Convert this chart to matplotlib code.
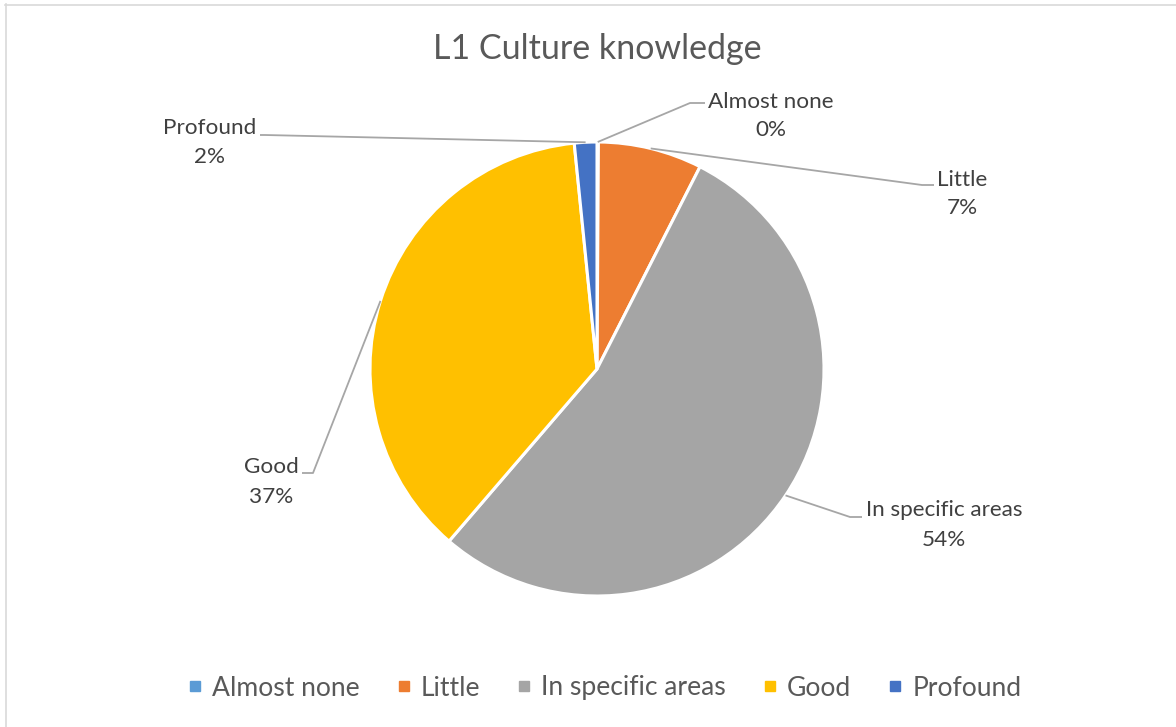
import matplotlib
matplotlib.use('Agg')
import matplotlib.pyplot as plt
from matplotlib.lines import Line2D
import numpy as np

# Respuestas: conocimiento de la cultura L1 (porcentaje)
categorias = ['Almost none', 'Little', 'In specific areas', 'Good', 'Profound']
porcentajes = [0.1, 7.4, 53.8, 37.1, 1.6]
colores = ['#5B9BD5', '#ED7D31', '#A5A5A5', '#FFC000', '#4472C4']
titulo = 'L1 Culture knowledge'

W, H = 1176, 727
CX, CY, R = 597, 369, 227     # centro y radio del pie en pixeles
plt.rcParams['font.family'] = ['Lato', 'DejaVu Sans']

def pt(px):
	return px * 0.72

def d(px, py):
	# pixel de la figura -> coordenadas del eje (radio del pie = 1)
	return ((px - CX) / R, (CY - py) / R)

fig = plt.figure(figsize=(W / 100, H / 100), dpi=100)
ax = fig.add_axes([0, 0, 1, 1])
ax.pie(porcentajes, colors=colores, startangle=90, counterclock=False,
	radius=1, center=(0, 0), wedgeprops=dict(edgecolor='white', linewidth=2.2))
ax.set_xlim(-CX / R, (W - CX) / R)
ax.set_ylim((CY - H) / R, CY / R)
ax.set_aspect('auto')
ax.axis('off')

# posiciones de las etiquetas: (x centro, y nombre, y porcentaje, codo, fin de linea)
etiquetas = {
	'Almost none': (771, 102, 130, (690, 103), (705, 103)),
	'Little': (962, 180, 208, (922, 185), (934, 185)),
	'In specific areas': (944, 510, 540, (850, 517), (862, 517)),
	'Good': (271, 467, 497, (313, 473), (302, 473)),
	'Profound': (210, 128, 157, (265, 135), (260, 135)),
}

acum = np.cumsum([0] + porcentajes)
for i, cat in enumerate(categorias):
	mid = (acum[i] + acum[i + 1]) / 2 / 100 * 2 * np.pi
	ax0, ay0 = np.sin(mid), np.cos(mid)
	cx, ny, py, codo, fin = etiquetas[cat]
	bx, by = d(*codo)
	ex, ey = d(*fin)
	ax.plot([ax0, bx, ex], [ay0, by, ey], color='#A6A6A6', lw=1.3, solid_capstyle='butt')
	tx, ty = d(cx, ny)
	ax.text(tx, ty, cat, ha='center', va='center', fontsize=pt(22.5), color='#404040')
	tx, ty = d(cx, py)
	ax.text(tx, ty, '%.0f%%' % porcentajes[i], ha='center', va='center', fontsize=pt(22.5), color='#404040')

fig.text(597 / W, 1 - 49 / H, titulo, ha='center', va='center', fontsize=pt(34), color='#595959')

handles = [Line2D([0], [0], marker='s', linestyle='none', markersize=7.5,
	markerfacecolor=c, markeredgecolor=c) for c in colores]
fig.legend(handles, categorias, loc='center', bbox_to_anchor=(603 / W, 1 - 688 / H), ncol=5,
	frameon=False, fontsize=pt(26.5), labelcolor='#595959', handletextpad=0.25,
	columnspacing=1.25, handlelength=0.8)

# marco gris del grafico
fig.add_artist(Line2D([5.5 / W, 5.5 / W], [0, 1 - 4 / H], color='#D9D9D9', lw=1.2))
fig.add_artist(Line2D([5 / W, 1], [1 - 4.5 / H, 1 - 4.5 / H], color='#D9D9D9', lw=1.2))

fig.savefig('out.png', dpi=100, facecolor='white')
